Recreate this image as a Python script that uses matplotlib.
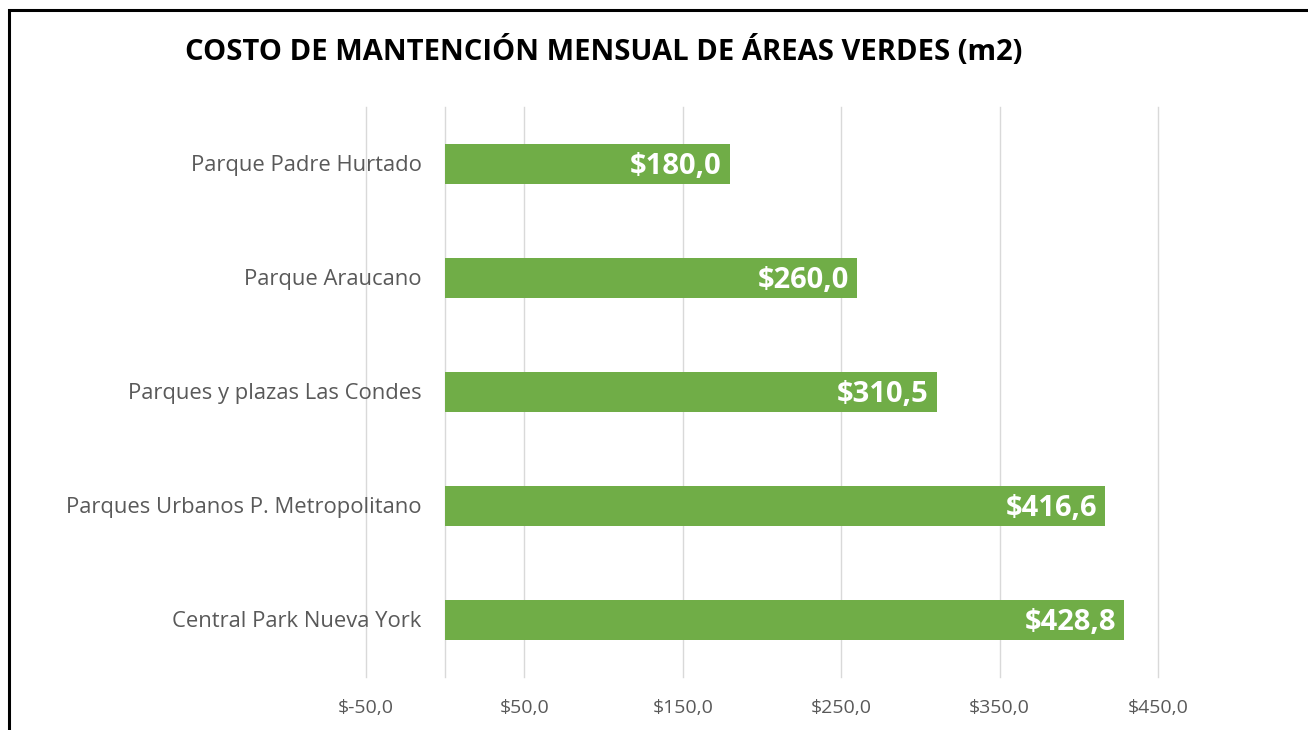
import matplotlib.pyplot as plt
from matplotlib.patches import Rectangle

# datos
parques = ["Parque Padre Hurtado", "Parque Araucano", "Parques y plazas Las Condes",
           "Parques Urbanos P. Metropolitano", "Central Park Nueva York"]
costos = [180.0, 260.0, 310.5, 416.6, 428.8]
ticks_x = [-50, 50, 150, 250, 350, 450]

verde = "#70AD47"
gris = "#595959"
fuente = "Open Sans"

fig = plt.figure(figsize=(13.08, 7.30), dpi=100)
ax = fig.add_axes([366 / 1308, 1 - 677 / 730, (1158 - 366) / 1308, (677 - 107) / 730])

pos = list(range(len(parques)))
ax.barh(pos, costos, height=0.35, color=verde, zorder=3)
ax.set_ylim(len(parques) - 0.5, -0.5)
ax.set_xlim(-50, 450)

# etiquetas de valor dentro de la barra
for p, c in zip(pos, costos):
    txt = "$" + f"{c:.1f}".replace(".", ",")
    ax.annotate(txt, (c, p), xytext=(-6, -1.5), textcoords="offset points",
                ha="right", va="center", color="white", fontsize=21,
                fontweight="bold", family=fuente, zorder=4)

# nombres junto al eje en 0
for p, n in zip(pos, parques):
    ax.annotate(n, (0, p), xytext=(-17, -1), textcoords="offset points",
                ha="right", va="center", color=gris, fontsize=15.8, family=fuente)

ax.set_yticks([])
ax.set_xticks(ticks_x)
ax.set_xticklabels(["$" + f"{t:.1f}".replace(".", ",") for t in ticks_x],
                   color=gris, fontsize=14, family=fuente)
ax.tick_params(axis="x", length=0, pad=16)
for t in ticks_x + [0]:
    ax.axvline(t, color="#D9D9D9", lw=1, zorder=1, clip_on=False)
for s in ax.spines.values():
    s.set_visible(False)

fig.text(604 / 1308, 1 - 51 / 730, "COSTO DE MANTENCIÓN MENSUAL DE ÁREAS VERDES (m2)",
         ha="center", va="center", fontsize=21, fontweight="bold", family=fuente)

# marco negro
fig.patches.append(Rectangle((9 / 1308, -0.1), 1.2, 1 - 10 / 730 + 0.1, transform=fig.transFigure,
                             fill=False, edgecolor="black", lw=2.2))

fig.savefig("out.png", dpi=100)
